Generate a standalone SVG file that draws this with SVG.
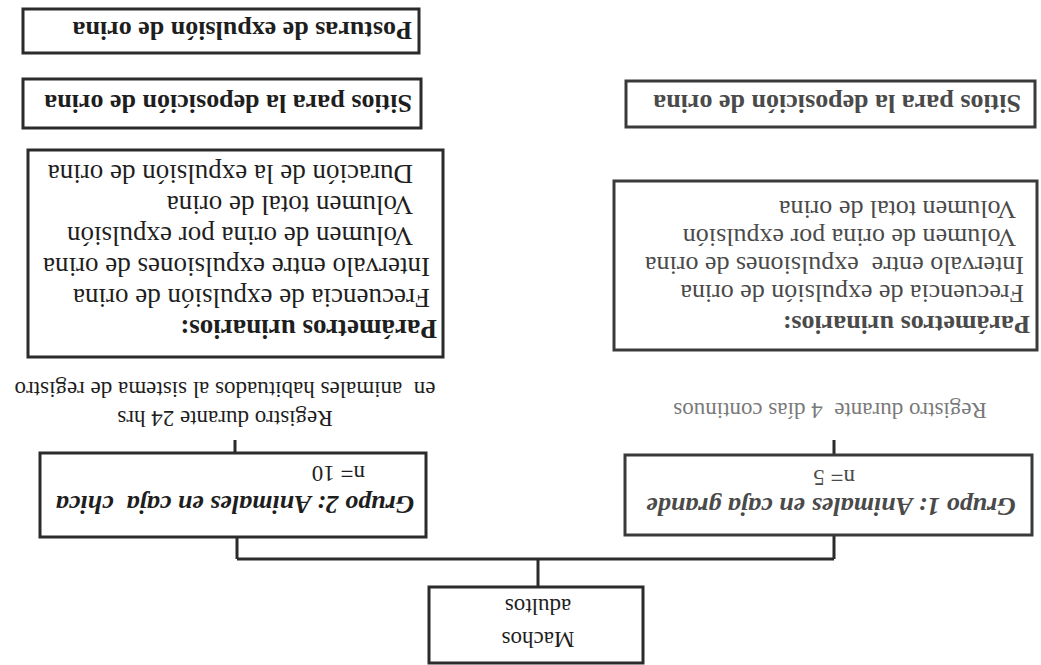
<svg xmlns="http://www.w3.org/2000/svg" width="1041" height="665" viewBox="0 0 1041 665">
<style>
.box{fill:#fff;stroke:#2b2b2b;stroke-width:3}
.boxr{fill:#fff;stroke:#3a3a3a;stroke-width:3}
.c{stroke:#2b2b2b;stroke-width:3;fill:none}
.t{font-family:"Liberation Serif","Times New Roman",serif;fill:#1e1e1e;white-space:pre}
.b{font-weight:bold}
.bi{font-weight:bold;font-style:italic}
.m{text-anchor:middle}
.f{fill:#4a4a4a}
.ff{fill:#7a7a7a}
</style>
<rect width="1041" height="665" fill="#fff"/>
<g transform="rotate(180 520.5 332.5)">
  <g id="connectors">
    <path class="c" d="M503 78 V106 M207 106 H804 M207 106 V130 M804 106 V128 M207 210 V225 M806 212 V225"/>
  </g>
  <g id="machos">
    <rect class="box" x="398" y="2" width="214" height="76"/>
    <text class="t m" x="503" y="33" font-size="23">Machos</text>
    <text class="t m" x="503" y="66" font-size="23">adultos</text>
  </g>
  <g id="grupo1">
    <rect class="boxr" x="9" y="130" width="407" height="80"/>
    <text class="t bi m f" x="210" y="167" font-size="26">Grupo 1: Animales en caja grande</text>
    <text class="t m f" x="207" y="195" font-size="23">n= 5</text>
  </g>
  <g id="grupo2">
    <rect class="box" x="615" y="128" width="386" height="84"/>
    <text class="t bi m" x="806" y="169" font-size="26" xml:space="preserve">Grupo 2: Animales en caja  chica</text>
    <text class="t" x="676" y="199" font-size="23">n= 10</text>
  </g>
  <g id="registro1">
    <text class="t m ff" x="211" y="262" font-size="23" xml:space="preserve">Registro durante  4 días continuos</text>
  </g>
  <g id="registro2">
    <text class="t m" x="816" y="254" font-size="23">Registro durante 24 hrs</text>
    <text class="t m" x="816" y="283" font-size="23" xml:space="preserve">en  animales habituados al sistema de registro</text>
  </g>
  <g id="parametros1">
    <rect class="boxr" x="4" y="315" width="423" height="169"/>
    <text class="t b f" x="11" y="349" font-size="26">Parámetros urinarios:</text>
    <text class="t f" x="17" y="380" font-size="26">Frecuencia de expulsión de orina</text>
    <text class="t f" x="17" y="408" font-size="26" xml:space="preserve">Intervalo entre  expulsiones de orina</text>
    <text class="t f" x="25" y="436" font-size="26">Volumen de orina por expulsión</text>
    <text class="t f" x="25" y="464" font-size="26">Volumen total de orina</text>
  </g>
  <g id="parametros2">
    <rect class="box" x="598" y="308" width="415" height="207"/>
    <text class="t b" x="604" y="345" font-size="27">Parámetros urinarios:</text>
    <text class="t" x="611" y="376" font-size="27">Frecuencia de expulsión de orina</text>
    <text class="t" x="611" y="407" font-size="27">Intervalo entre expulsiones de orina</text>
    <text class="t" x="628" y="438" font-size="27">Volumen de orina por expulsión</text>
    <text class="t" x="628" y="469" font-size="27">Volumen total de orina</text>
    <text class="t" x="628" y="500" font-size="27">Duración de la expulsión de orina</text>
  </g>
  <g id="sitios1">
    <rect class="boxr" x="6" y="538" width="409" height="46"/>
    <text class="t b f" x="20" y="570" font-size="26">Sitios para la deposición de orina</text>
  </g>
  <g id="sitios2">
    <rect class="box" x="620" y="537" width="398" height="49"/>
    <text class="t b" x="629" y="570" font-size="26">Sitios para la deposición de orina</text>
  </g>
  <g id="posturas">
    <rect class="box" x="622" y="612" width="396" height="44"/>
    <text class="t b" x="629" y="643" font-size="26">Posturas de expulsión de orina</text>
  </g>
</g>
</svg>
